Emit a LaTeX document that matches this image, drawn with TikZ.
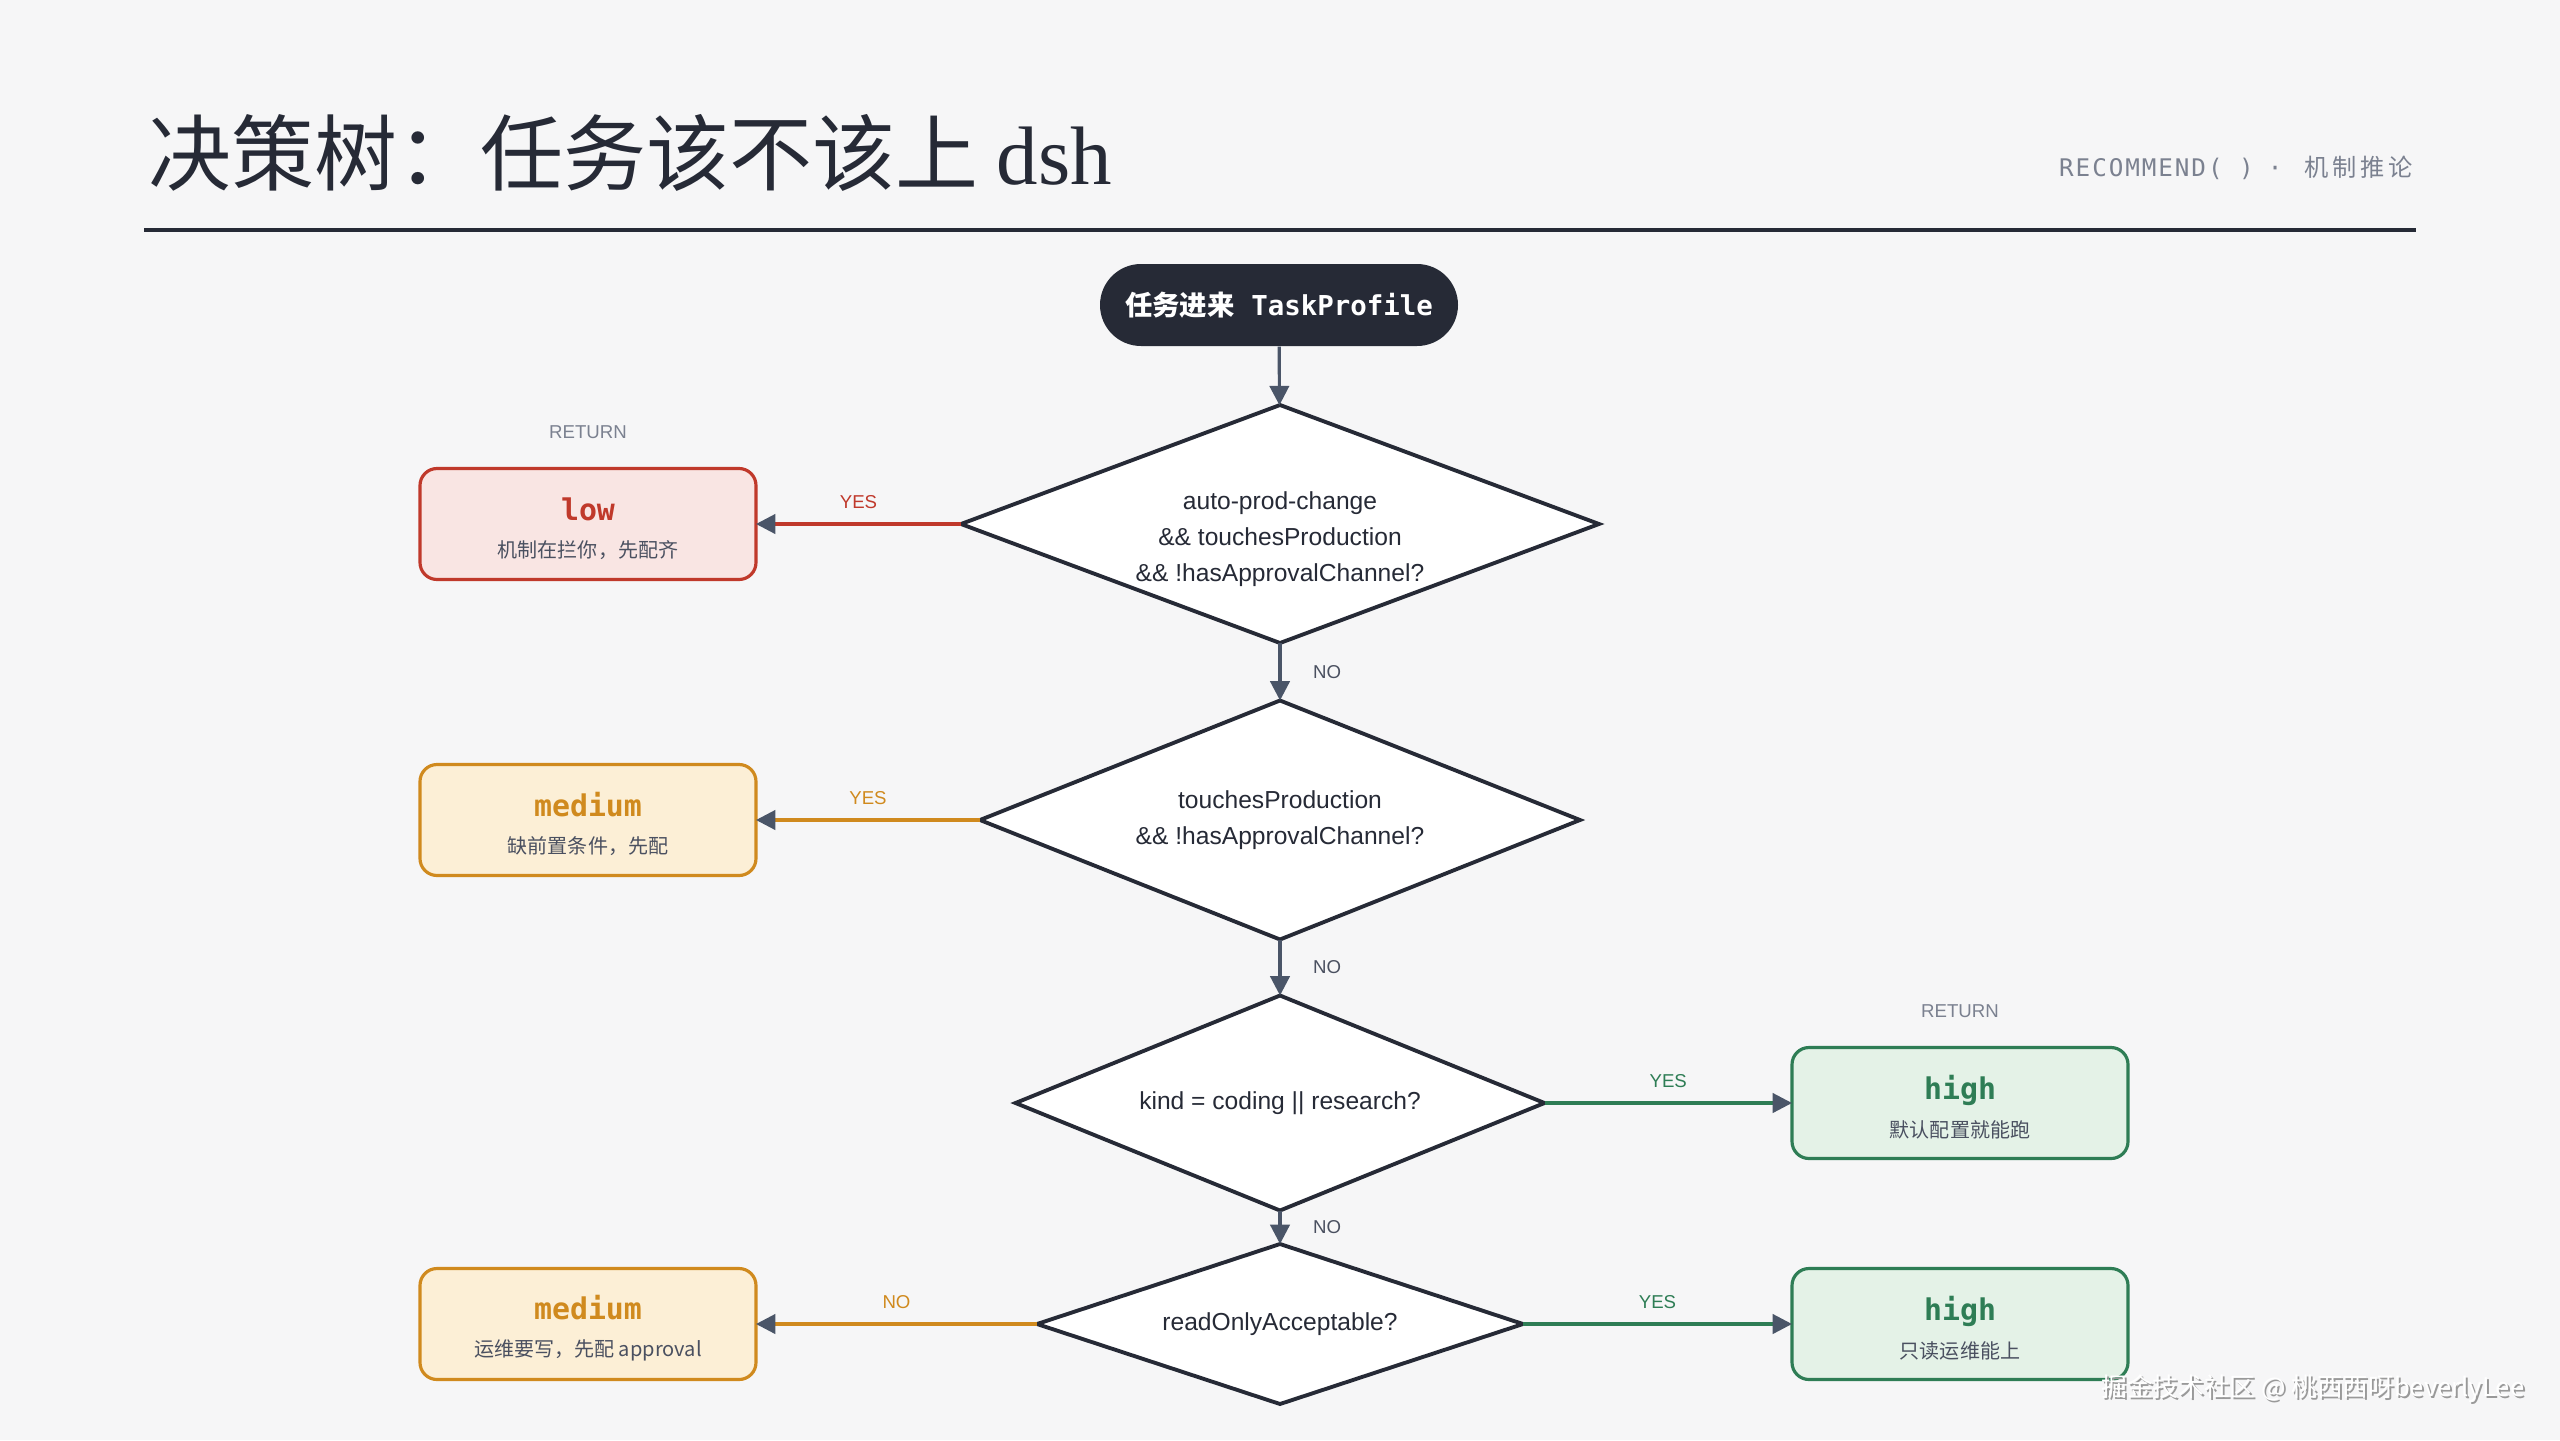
\documentclass[tikz,border=0pt]{standalone}
\usepackage{fontspec}
\usetikzlibrary{shapes.geometric,arrows.meta,positioning}
\setmainfont{Liberation Sans}
\setmonofont{DejaVu Sans Mono}
\newfontfamily\cjk{Noto Sans CJK SC}
\newfontfamily\cjkwide[LetterSpace=15]{Noto Sans CJK SC}
\newfontfamily\monowide[LetterSpace=8]{DejaVu Sans Mono}
\newfontfamily\titleserif{Liberation Serif}

% 颜色
\definecolor{bgcol}{HTML}{F6F6F7}
\definecolor{inkcol}{HTML}{262A36}
\definecolor{tipcol}{HTML}{4A5568}
\definecolor{subcol}{HTML}{4A5060}
\definecolor{mutedcol}{HTML}{7B8190}
\definecolor{redcol}{HTML}{C0392B}
\definecolor{redfill}{HTML}{F9E5E3}
\definecolor{orangecol}{HTML}{D08A1E}
\definecolor{orangefill}{HTML}{FCEFD6}
\definecolor{greencol}{HTML}{2E7D55}
\definecolor{greenfill}{HTML}{E4F2E7}

% 结果框里的两行字
\newcommand\verdicttext[3]{{\ttfamily\bfseries\fontsize{8.5}{9}\selectfont\color{#1}\rule{0pt}{9.3pt}#2}\\{\cjk\color{subcol}#3}}

\begin{document}
\begin{tikzpicture}[
	start/.style={rectangle, rounded corners=0.41cm, fill=inkcol, text=white, minimum width=3.58cm, minimum height=0.82cm, font=\ttfamily\bfseries\fontsize{7.8}{9}\selectfont},
	decision/.style={diamond, draw=inkcol, line width=1.1pt, fill=white, inner sep=0pt, outer sep=0pt, align=center, text=inkcol, font=\fontsize{7}{10.2}\selectfont},
	verdict/.style={rectangle, rounded corners=0.17cm, line width=0.9pt, minimum width=3.36cm, minimum height=1.11cm, inner sep=0pt, outer sep=0pt, align=center, font=\fontsize{5.7}{10.6}\selectfont},
	flow/.style={line width=0.9pt, -{Triangle[length=5.5pt,width=5.5pt,color=tipcol]}},
	tag/.style={font=\fontsize{5.3}{6}\selectfont, inner sep=1pt},
	]
	% 背景和边界
	\fill[bgcol] (0,0) rectangle (25.6,-14.4);
	\useasboundingbox (0,0) rectangle (25.6,-14.4);
	
	% 标题
	\node[anchor=west, inner sep=0pt, text=inkcol] (title) at (1.48,-1.53) {\cjk\fontsize{23.6}{28}\selectfont 决策树：任务该不该上 {\titleserif dsh}};
	\node[anchor=east, inner sep=0pt, text=mutedcol, font=\fontsize{6.9}{8}\selectfont] (header) at (24.13,-1.68) {\monowide RECOMMEND( )\hspace{0.14cm}·\hspace{0.22cm}{\cjkwide 机制推论}};
	\draw[line width=1.2pt, inkcol] (1.44,-2.30) -- (24.16,-2.30);
	
	% 入口
	\node[start] (start) at (12.79,-3.05) {{\cjk\bfseries 任务进来} TaskProfile};
	
	% 判断
	\node[decision, aspect=2.68, minimum width=6.38cm, minimum height=2.38cm] (d1) at (12.80,-5.24) {\rule{0pt}{13.5pt}auto-prod-change\\\&\& touchesProduction\\\&\& !hasApprovalChannel?};
	\node[decision, aspect=2.51, minimum width=6.00cm, minimum height=2.39cm] (d2) at (12.80,-8.20) {touchesProduction\\\&\& !hasApprovalChannel?};
	\node[decision, aspect=2.46, minimum width=5.29cm, minimum height=2.15cm] (d3) at (12.80,-11.03) {kind = coding || research?};
	\node[decision, aspect=3.04, minimum width=4.86cm, minimum height=1.60cm] (d4) at (12.80,-13.24) {readOnlyAcceptable?};
	
	% 结果
	\node[verdict, draw=redcol, fill=redfill] (low) at (5.88,-5.24) {\verdicttext{redcol}{low}{机制在拦你，先配齐}};
	\node[verdict, draw=orangecol, fill=orangefill] (med1) at (5.88,-8.20) {\verdicttext{orangecol}{medium}{缺前置条件，先配}};
	\node[verdict, draw=greencol, fill=greenfill] (high1) at (19.60,-11.03) {\verdicttext{greencol}{high}{默认配置就能跑}};
	\node[verdict, draw=orangecol, fill=orangefill] (med2) at (5.88,-13.24) {\verdicttext{orangecol}{medium}{运维要写，先配 approval}};
	\node[verdict, draw=greencol, fill=greenfill] (high2) at (19.60,-13.24) {\verdicttext{greencol}{high}{只读运维能上}};
	\node[tag, text=mutedcol, above=0.26cm of low] (ret1) {RETURN};
	\node[tag, text=mutedcol, above=0.26cm of high1] (ret2) {RETURN};
	
	% 连线
	\draw[flow, draw=tipcol] (start) -- (d1);
	\draw[flow, draw=tipcol] (d1.south) -- node[tag, text=subcol, right=0.28cm] {NO} (d2.north);
	\draw[flow, draw=tipcol] (d2.south) -- node[tag, text=subcol, right=0.28cm] {NO} (d3.north);
	\draw[flow, draw=tipcol] (d3.south) -- node[tag, text=subcol, right=0.28cm] {NO} (d4.north);
	\draw[flow, draw=redcol] (d1.west) -- node[tag, text=redcol, above=3pt] {YES} (low.east);
	\draw[flow, draw=orangecol] (d2.west) -- node[tag, text=orangecol, above=3pt] {YES} (med1.east);
	\draw[flow, draw=greencol] (d3.east) -- node[tag, text=greencol, above=3pt] {YES} (high1.west);
	\draw[flow, draw=greencol] (d4.east) -- node[tag, text=greencol, above=3pt] {YES} (high2.west);
	\draw[flow, draw=orangecol] (d4.west) -- node[tag, text=orangecol, above=3pt] {NO} (med2.east);
	
	% 水印
	\node[anchor=east, inner sep=0pt, text=gray!80, font=\cjk\fontsize{7.3}{8}\selectfont] (markshade) at (25.27,-13.91) {掘金技术社区 @ 桃西西呀beverlyLee};
	\node[anchor=east, inner sep=0pt, text=white, font=\cjk\fontsize{7.3}{8}\selectfont] (mark) at (25.25,-13.89) {掘金技术社区 @ 桃西西呀beverlyLee};
\end{tikzpicture}
\end{document}
